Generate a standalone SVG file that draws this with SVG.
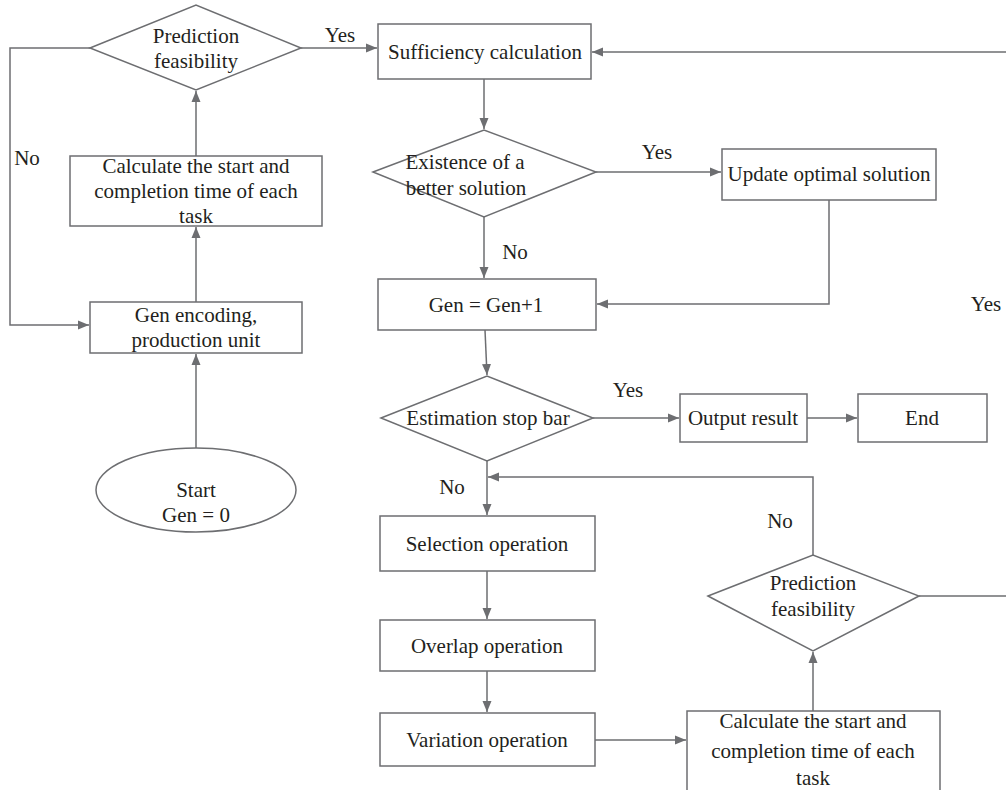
<svg xmlns="http://www.w3.org/2000/svg" width="1006" height="790" viewBox="0 0 1006 790">
<style>
.s{fill:#fff;stroke:#6d6e71;stroke-width:1.5}
.c{fill:none;stroke:#6d6e71;stroke-width:1.5}
text{font-family:"Liberation Serif","Times New Roman",serif;font-size:21px;fill:#231f20;text-anchor:middle}
</style>
<defs>
<marker id="a" markerUnits="userSpaceOnUse" markerWidth="12" markerHeight="10" refX="11" refY="5" orient="auto">
<path d="M0,0.5 L11,5 L0,9.5 z" fill="#6d6e71"/>
</marker>
</defs>
<rect width="1006" height="790" fill="#fff"/>
<g id="connectors">
<path class="c" d="M301,48 H377" marker-end="url(#a)"/>
<path class="c" d="M90,48 H10 V325 H89" marker-end="url(#a)"/>
<path class="c" d="M196,156 V91" marker-end="url(#a)"/>
<path class="c" d="M196,302 V227" marker-end="url(#a)"/>
<path class="c" d="M196,448 V354" marker-end="url(#a)"/>
<path class="c" d="M1006,52 H592" marker-end="url(#a)"/>
<path class="c" d="M484,79 V129" marker-end="url(#a)"/>
<path class="c" d="M596,172 H721" marker-end="url(#a)"/>
<path class="c" d="M829,200 V304 H597" marker-end="url(#a)"/>
<path class="c" d="M484,217 V278" marker-end="url(#a)"/>
<path class="c" d="M485,330 L487,375" marker-end="url(#a)"/>
<path class="c" d="M593,418 H679" marker-end="url(#a)"/>
<path class="c" d="M807,418 H857" marker-end="url(#a)"/>
<path class="c" d="M487,461 V515" marker-end="url(#a)"/>
<path class="c" d="M813,555 V477 H488" marker-end="url(#a)"/>
<path class="c" d="M487,571 V619" marker-end="url(#a)"/>
<path class="c" d="M487,671 V712" marker-end="url(#a)"/>
<path class="c" d="M595,740 H686" marker-end="url(#a)"/>
<path class="c" d="M813,711 V652" marker-end="url(#a)"/>
<path class="c" d="M919,596 H1006"/>
<text x="340" y="42">Yes</text>
<text x="27" y="165">No</text>
<text x="657" y="159">Yes</text>
<text x="515" y="259">No</text>
<text x="986" y="311">Yes</text>
<text x="628" y="397">Yes</text>
<text x="452" y="494">No</text>
<text x="780" y="528">No</text>
</g>
<g id="pred1">
<path class="s" d="M90,48 L196,5 L301,48 L196,90 z"/>
<text x="196" y="43">Prediction</text>
<text x="196" y="68">feasibility</text>
</g>
<g id="calc1">
<rect class="s" x="70" y="156" width="252" height="70"/>
<text x="196" y="173">Calculate the start and</text>
<text x="196" y="198">completion time of each</text>
<text x="196" y="223">task</text>
</g>
<g id="genenc">
<rect class="s" x="90" y="302" width="212" height="51"/>
<text x="196" y="322">Gen encoding,</text>
<text x="196" y="347">production unit</text>
</g>
<g id="start">
<ellipse class="s" cx="196" cy="490" rx="100" ry="42"/>
<text x="196" y="497">Start</text>
<text x="196" y="522">Gen = 0</text>
</g>
<g id="suff">
<rect class="s" x="378" y="24" width="213" height="55"/>
<text x="485" y="59">Sufficiency calculation</text>
</g>
<g id="exist">
<path class="s" d="M373,172 L484,130 L596,172 L484,217 z"/>
<text x="465" y="169">Existence of a</text>
<text x="466" y="195">better solution</text>
</g>
<g id="update">
<rect class="s" x="722" y="149" width="214" height="51"/>
<text x="829" y="181">Update optimal solution</text>
</g>
<g id="gen1">
<rect class="s" x="378" y="279" width="218" height="51"/>
<text x="486" y="312">Gen = Gen+1</text>
</g>
<g id="estim">
<path class="s" d="M381,418 L487,376 L593,418 L487,461 z"/>
<text x="488" y="425">Estimation stop bar</text>
</g>
<g id="output">
<rect class="s" x="680" y="394" width="127" height="48"/>
<text x="743" y="425">Output result</text>
</g>
<g id="end">
<rect class="s" x="858" y="394" width="129" height="48"/>
<text x="922" y="425">End</text>
</g>
<g id="select">
<rect class="s" x="380" y="516" width="215" height="55"/>
<text x="487" y="551">Selection operation</text>
</g>
<g id="overlap">
<rect class="s" x="380" y="620" width="215" height="51"/>
<text x="487" y="653">Overlap operation</text>
</g>
<g id="variation">
<rect class="s" x="380" y="713" width="215" height="53"/>
<text x="487" y="747">Variation operation</text>
</g>
<g id="pred2">
<path class="s" d="M708,596 L813,555 L919,596 L813,651 z"/>
<text x="813" y="590">Prediction</text>
<text x="813" y="616">feasibility</text>
</g>
<g id="calc2">
<rect class="s" x="687" y="711" width="253" height="85"/>
<text x="813" y="728">Calculate the start and</text>
<text x="813" y="758">completion time of each</text>
<text x="813" y="785">task</text>
</g>
</svg>
